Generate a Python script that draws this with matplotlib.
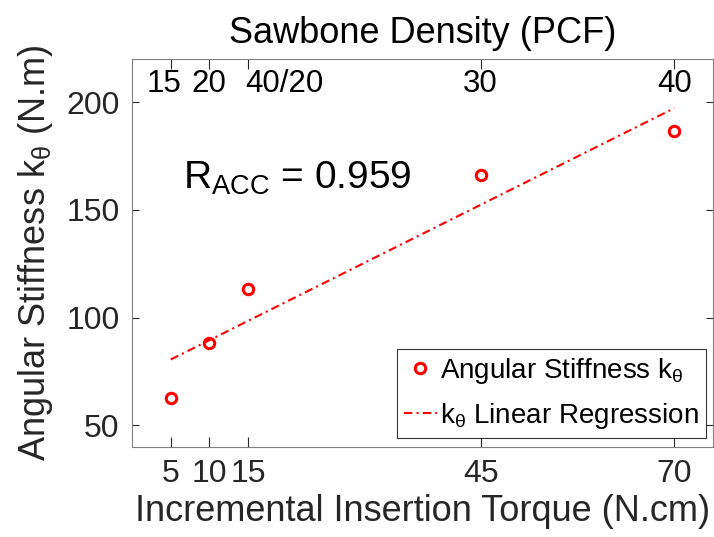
import numpy as np
import matplotlib
matplotlib.use('Agg')
import matplotlib.pyplot as plt
from matplotlib.transforms import blended_transform_factory

plt.rcParams['font.family'] = ['Liberation Sans', 'DejaVu Sans']
plt.rcParams['mathtext.fontset'] = 'custom'
plt.rcParams['mathtext.rm'] = 'Liberation Sans'
plt.rcParams['mathtext.it'] = 'Liberation Sans:italic'

# data
torque = [5, 10, 15, 45, 70]
stiffness = [62.7, 88.3, 113.3, 166.4, 186.5]
reg_x = [5, 70]
reg_y = [80.6, 197.2]
density_labels = ['15', '20', '40/20', '30', '40']
density_label_x = [4.1, 9.9, 19.7, 45, 70]   # where the top labels sit (torque units)
r_acc = 0.959

gray = '#262626'

fig = plt.figure(figsize=(7.14, 5.37), dpi=100)
ax = fig.add_axes([132/714, 90/537, 581/714, 388/537])

ax.plot(torque, stiffness, 'o', mfc='none', mec='red', mew=2.2, ms=7.5,
        label=r'Angular Stiffness $\mathregular{k_{\theta}}$')
ax.plot(reg_x, reg_y, color='red', lw=1.5, ls=(0, (4, 2, 1, 2)),
        label=r'$\mathregular{k_{\theta}}$ Linear Regression')

ax.set_xlim(0, 75)
ax.set_ylim(40, 220)
ax.set_xticks(torque)
ax.set_xticklabels(['5', '10', '15', '45', '70'])
ax.set_yticks([50, 100, 150, 200])

ax.tick_params(axis='both', direction='in', top=True, right=True,
               labelsize=23, colors=gray, labelcolor=gray, width=0.8)
ax.tick_params(axis='x', length=7, pad=9)
ax.tick_params(axis='y', length=5, pad=9)
for s in ax.spines.values():
    s.set_color('#808080')
    s.set_linewidth(0.8)

ax.set_xlabel('Incremental Insertion Torque (N.cm)', fontsize=26, color=gray, labelpad=3)
ax.set_ylabel(r'Angular Stiffness $\mathregular{k_{\theta}}$ (N.m)', fontsize=26, color=gray, labelpad=8)

# top axis labels (sawbone density), drawn inside the box
trans = blended_transform_factory(ax.transData, ax.transAxes)
for xv, lab in zip(density_label_x, density_labels):
    ax.text(xv, 0.915, lab, transform=trans, ha='center', va='baseline', fontsize=22.5, color='black')
ax.text(0.5, 1.041, 'Sawbone Density (PCF)', transform=ax.transAxes, ha='center', va='baseline',
        fontsize=26, color='black')

ax.text(6.6, 160, r'$\mathregular{R_{ACC}}$ = %.3f' % r_acc, fontsize=28, color='black', va='baseline')

leg = ax.legend(loc='lower right', bbox_to_anchor=(0.988, 0.023), fontsize=20, frameon=True,
                fancybox=False, edgecolor='black', handlelength=1.2, handletextpad=0.12,
                borderaxespad=0, labelspacing=0.56, borderpad=0.25)
leg.get_frame().set_linewidth(0.8)

fig.savefig('out.png', dpi=100)
